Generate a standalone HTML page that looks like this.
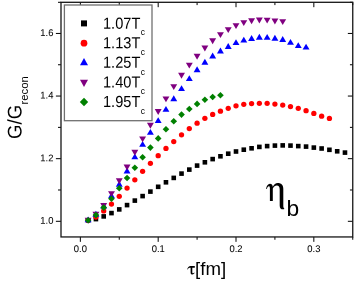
<!DOCTYPE html><html><head><meta charset="utf-8"><title>chart</title>
<style>html,body{margin:0;padding:0;background:#fff;}body{width:359px;height:289px;overflow:hidden;}svg{display:block;}text{font-family:"Liberation Sans",sans-serif;}svg{will-change:transform;}</style>
</head><body>
<svg width="359" height="289" viewBox="0 0 359 289">
<rect x="0" y="0" width="359" height="289" fill="#fff"/>
<g stroke="#000" stroke-width="1.0" fill="none">
<path d="M80.35 236.95V241.85"/>
<path d="M80.35 2.3V7.20"/>
<path d="M119.26 236.95V239.75"/>
<path d="M119.26 2.3V5.10"/>
<path d="M158.18 236.95V241.85"/>
<path d="M158.18 2.3V7.20"/>
<path d="M197.09 236.95V239.75"/>
<path d="M197.09 2.3V5.10"/>
<path d="M236.01 236.95V241.85"/>
<path d="M236.01 2.3V7.20"/>
<path d="M274.92 236.95V239.75"/>
<path d="M274.92 2.3V5.10"/>
<path d="M313.84 236.95V241.85"/>
<path d="M313.84 2.3V7.20"/>
<path d="M352.75 236.95V239.75"/>
<path d="M352.75 2.3V5.10"/>
<path d="M61.0 221.30H55.90"/>
<path d="M352.75 221.30H347.85"/>
<path d="M61.0 189.99H58.00"/>
<path d="M352.75 189.99H349.95"/>
<path d="M61.0 158.68H55.90"/>
<path d="M352.75 158.68H347.85"/>
<path d="M61.0 127.37H58.00"/>
<path d="M352.75 127.37H349.95"/>
<path d="M61.0 96.06H55.90"/>
<path d="M352.75 96.06H347.85"/>
<path d="M61.0 64.75H58.00"/>
<path d="M352.75 64.75H349.95"/>
<path d="M61.0 33.44H55.90"/>
<path d="M352.75 33.44H347.85"/>
<path d="M61.0 2.30H58.00"/>
<path d="M352.75 2.30H349.95"/>
</g>
<rect x="61.0" y="2.3" width="291.75" height="234.64999999999998" fill="none" stroke="#161616" stroke-width="1.3"/>
<g id="black">
<rect x="85.83" y="218.10" width="4.6" height="4.6" fill="#000"/>
<rect x="93.62" y="216.80" width="4.6" height="4.6" fill="#000"/>
<rect x="101.40" y="214.10" width="4.6" height="4.6" fill="#000"/>
<rect x="109.18" y="210.80" width="4.6" height="4.6" fill="#000"/>
<rect x="116.96" y="207.10" width="4.6" height="4.6" fill="#000"/>
<rect x="124.75" y="202.80" width="4.6" height="4.6" fill="#000"/>
<rect x="132.53" y="198.30" width="4.6" height="4.6" fill="#000"/>
<rect x="140.31" y="193.80" width="4.6" height="4.6" fill="#000"/>
<rect x="148.10" y="189.30" width="4.6" height="4.6" fill="#000"/>
<rect x="155.88" y="184.50" width="4.6" height="4.6" fill="#000"/>
<rect x="163.66" y="180.00" width="4.6" height="4.6" fill="#000"/>
<rect x="171.45" y="175.60" width="4.6" height="4.6" fill="#000"/>
<rect x="179.23" y="171.30" width="4.6" height="4.6" fill="#000"/>
<rect x="187.01" y="167.30" width="4.6" height="4.6" fill="#000"/>
<rect x="194.79" y="163.30" width="4.6" height="4.6" fill="#000"/>
<rect x="202.58" y="160.00" width="4.6" height="4.6" fill="#000"/>
<rect x="210.36" y="156.80" width="4.6" height="4.6" fill="#000"/>
<rect x="218.14" y="154.00" width="4.6" height="4.6" fill="#000"/>
<rect x="225.93" y="151.40" width="4.6" height="4.6" fill="#000"/>
<rect x="233.71" y="149.20" width="4.6" height="4.6" fill="#000"/>
<rect x="241.49" y="147.40" width="4.6" height="4.6" fill="#000"/>
<rect x="249.28" y="146.00" width="4.6" height="4.6" fill="#000"/>
<rect x="257.06" y="144.60" width="4.6" height="4.6" fill="#000"/>
<rect x="264.84" y="143.80" width="4.6" height="4.6" fill="#000"/>
<rect x="272.62" y="143.30" width="4.6" height="4.6" fill="#000"/>
<rect x="280.41" y="143.10" width="4.6" height="4.6" fill="#000"/>
<rect x="288.19" y="143.30" width="4.6" height="4.6" fill="#000"/>
<rect x="295.97" y="143.80" width="4.6" height="4.6" fill="#000"/>
<rect x="303.76" y="144.30" width="4.6" height="4.6" fill="#000"/>
<rect x="311.54" y="145.30" width="4.6" height="4.6" fill="#000"/>
<rect x="319.32" y="146.20" width="4.6" height="4.6" fill="#000"/>
<rect x="327.11" y="147.50" width="4.6" height="4.6" fill="#000"/>
<rect x="334.89" y="149.00" width="4.6" height="4.6" fill="#000"/>
<rect x="342.67" y="150.30" width="4.6" height="4.6" fill="#000"/>
</g>
<g id="red">
<circle cx="88.13" cy="220.30" r="2.65" fill="#ff0000"/>
<circle cx="95.92" cy="217.00" r="2.65" fill="#ff0000"/>
<circle cx="103.70" cy="210.90" r="2.65" fill="#ff0000"/>
<circle cx="111.48" cy="204.10" r="2.65" fill="#ff0000"/>
<circle cx="119.26" cy="196.30" r="2.65" fill="#ff0000"/>
<circle cx="127.05" cy="188.10" r="2.65" fill="#ff0000"/>
<circle cx="134.83" cy="179.80" r="2.65" fill="#ff0000"/>
<circle cx="142.61" cy="171.30" r="2.65" fill="#ff0000"/>
<circle cx="150.40" cy="163.30" r="2.65" fill="#ff0000"/>
<circle cx="158.18" cy="155.70" r="2.65" fill="#ff0000"/>
<circle cx="165.96" cy="148.40" r="2.65" fill="#ff0000"/>
<circle cx="173.75" cy="141.60" r="2.65" fill="#ff0000"/>
<circle cx="181.53" cy="134.80" r="2.65" fill="#ff0000"/>
<circle cx="189.31" cy="128.60" r="2.65" fill="#ff0000"/>
<circle cx="197.09" cy="123.20" r="2.65" fill="#ff0000"/>
<circle cx="204.88" cy="118.30" r="2.65" fill="#ff0000"/>
<circle cx="212.66" cy="114.40" r="2.65" fill="#ff0000"/>
<circle cx="220.44" cy="111.20" r="2.65" fill="#ff0000"/>
<circle cx="228.23" cy="108.30" r="2.65" fill="#ff0000"/>
<circle cx="236.01" cy="105.80" r="2.65" fill="#ff0000"/>
<circle cx="243.79" cy="104.30" r="2.65" fill="#ff0000"/>
<circle cx="251.58" cy="103.60" r="2.65" fill="#ff0000"/>
<circle cx="259.36" cy="103.30" r="2.65" fill="#ff0000"/>
<circle cx="267.14" cy="103.30" r="2.65" fill="#ff0000"/>
<circle cx="274.92" cy="104.10" r="2.65" fill="#ff0000"/>
<circle cx="282.71" cy="105.10" r="2.65" fill="#ff0000"/>
<circle cx="290.49" cy="106.60" r="2.65" fill="#ff0000"/>
<circle cx="298.27" cy="108.30" r="2.65" fill="#ff0000"/>
<circle cx="306.06" cy="110.70" r="2.65" fill="#ff0000"/>
<circle cx="313.84" cy="113.40" r="2.65" fill="#ff0000"/>
<circle cx="321.62" cy="116.20" r="2.65" fill="#ff0000"/>
<circle cx="329.41" cy="118.40" r="2.65" fill="#ff0000"/>
</g>
<g id="blue">
<path d="M84.68 222.35L91.58 222.35L88.13 216.45Z" fill="#0000ff"/>
<path d="M92.47 216.75L99.37 216.75L95.92 210.85Z" fill="#0000ff"/>
<path d="M100.25 208.55L107.15 208.55L103.70 202.65Z" fill="#0000ff"/>
<path d="M108.03 198.25L114.93 198.25L111.48 192.35Z" fill="#0000ff"/>
<path d="M115.81 186.75L122.71 186.75L119.26 180.85Z" fill="#0000ff"/>
<path d="M123.60 173.45L130.50 173.45L127.05 167.55Z" fill="#0000ff"/>
<path d="M131.38 159.35L138.28 159.35L134.83 153.45Z" fill="#0000ff"/>
<path d="M139.16 146.85L146.06 146.85L142.61 140.95Z" fill="#0000ff"/>
<path d="M146.95 134.85L153.85 134.85L150.40 128.95Z" fill="#0000ff"/>
<path d="M154.73 123.05L161.63 123.05L158.18 117.15Z" fill="#0000ff"/>
<path d="M162.51 111.85L169.41 111.85L165.96 105.95Z" fill="#0000ff"/>
<path d="M170.30 101.15L177.20 101.15L173.75 95.25Z" fill="#0000ff"/>
<path d="M178.08 91.05L184.98 91.05L181.53 85.15Z" fill="#0000ff"/>
<path d="M185.86 81.05L192.76 81.05L189.31 75.15Z" fill="#0000ff"/>
<path d="M193.64 72.15L200.54 72.15L197.09 66.25Z" fill="#0000ff"/>
<path d="M201.43 64.75L208.33 64.75L204.88 58.85Z" fill="#0000ff"/>
<path d="M209.21 58.45L216.11 58.45L212.66 52.55Z" fill="#0000ff"/>
<path d="M216.99 53.45L223.89 53.45L220.44 47.55Z" fill="#0000ff"/>
<path d="M224.78 48.95L231.68 48.95L228.23 43.05Z" fill="#0000ff"/>
<path d="M232.56 45.05L239.46 45.05L236.01 39.15Z" fill="#0000ff"/>
<path d="M240.34 42.55L247.24 42.55L243.79 36.65Z" fill="#0000ff"/>
<path d="M248.13 40.95L255.03 40.95L251.58 35.05Z" fill="#0000ff"/>
<path d="M255.91 39.75L262.81 39.75L259.36 33.85Z" fill="#0000ff"/>
<path d="M263.69 39.85L270.59 39.85L267.14 33.95Z" fill="#0000ff"/>
<path d="M271.47 40.75L278.37 40.75L274.92 34.85Z" fill="#0000ff"/>
<path d="M279.26 41.95L286.16 41.95L282.71 36.05Z" fill="#0000ff"/>
<path d="M287.04 44.85L293.94 44.85L290.49 38.95Z" fill="#0000ff"/>
<path d="M294.82 48.05L301.72 48.05L298.27 42.15Z" fill="#0000ff"/>
<path d="M302.61 49.55L309.51 49.55L306.06 43.65Z" fill="#0000ff"/>
</g>
<g id="purple">
<path d="M84.68 217.75L91.58 217.75L88.13 223.65Z" fill="#800080"/>
<path d="M92.47 211.85L99.37 211.85L95.92 217.75Z" fill="#800080"/>
<path d="M100.25 203.05L107.15 203.05L103.70 208.95Z" fill="#800080"/>
<path d="M108.03 191.15L114.93 191.15L111.48 197.05Z" fill="#800080"/>
<path d="M115.81 178.35L122.71 178.35L119.26 184.25Z" fill="#800080"/>
<path d="M123.60 164.55L130.50 164.55L127.05 170.45Z" fill="#800080"/>
<path d="M131.38 149.75L138.28 149.75L134.83 155.65Z" fill="#800080"/>
<path d="M139.16 136.45L146.06 136.45L142.61 142.35Z" fill="#800080"/>
<path d="M146.95 122.85L153.85 122.85L150.40 128.75Z" fill="#800080"/>
<path d="M154.73 109.05L161.63 109.05L158.18 114.95Z" fill="#800080"/>
<path d="M162.51 96.45L169.41 96.45L165.96 102.35Z" fill="#800080"/>
<path d="M170.30 84.15L177.20 84.15L173.75 90.05Z" fill="#800080"/>
<path d="M178.08 72.85L184.98 72.85L181.53 78.75Z" fill="#800080"/>
<path d="M185.86 62.65L192.76 62.65L189.31 68.55Z" fill="#800080"/>
<path d="M193.64 53.85L200.54 53.85L197.09 59.75Z" fill="#800080"/>
<path d="M201.43 45.55L208.33 45.55L204.88 51.45Z" fill="#800080"/>
<path d="M209.21 38.25L216.11 38.25L212.66 44.15Z" fill="#800080"/>
<path d="M216.99 32.15L223.89 32.15L220.44 38.05Z" fill="#800080"/>
<path d="M224.78 27.15L231.68 27.15L228.23 33.05Z" fill="#800080"/>
<path d="M232.56 23.15L239.46 23.15L236.01 29.05Z" fill="#800080"/>
<path d="M240.34 20.15L247.24 20.15L243.79 26.05Z" fill="#800080"/>
<path d="M248.13 18.35L255.03 18.35L251.58 24.25Z" fill="#800080"/>
<path d="M255.91 17.55L262.81 17.55L259.36 23.45Z" fill="#800080"/>
<path d="M263.69 17.65L270.59 17.65L267.14 23.55Z" fill="#800080"/>
<path d="M271.47 18.55L278.37 18.55L274.92 24.45Z" fill="#800080"/>
<path d="M279.26 19.15L286.16 19.15L282.71 25.05Z" fill="#800080"/>
</g>
<g id="green">
<path d="M84.83 220.20L88.13 216.90L91.43 220.20L88.13 223.50Z" fill="#008000"/>
<path d="M92.62 215.10L95.92 211.80L99.22 215.10L95.92 218.40Z" fill="#008000"/>
<path d="M100.40 207.60L103.70 204.30L107.00 207.60L103.70 210.90Z" fill="#008000"/>
<path d="M108.18 198.80L111.48 195.50L114.78 198.80L111.48 202.10Z" fill="#008000"/>
<path d="M115.96 188.30L119.26 185.00L122.56 188.30L119.26 191.60Z" fill="#008000"/>
<path d="M123.75 178.00L127.05 174.70L130.35 178.00L127.05 181.30Z" fill="#008000"/>
<path d="M131.53 167.80L134.83 164.50L138.13 167.80L134.83 171.10Z" fill="#008000"/>
<path d="M139.31 157.20L142.61 153.90L145.91 157.20L142.61 160.50Z" fill="#008000"/>
<path d="M147.10 147.60L150.40 144.30L153.70 147.60L150.40 150.90Z" fill="#008000"/>
<path d="M154.88 138.40L158.18 135.10L161.48 138.40L158.18 141.70Z" fill="#008000"/>
<path d="M162.66 129.30L165.96 126.00L169.26 129.30L165.96 132.60Z" fill="#008000"/>
<path d="M170.45 121.30L173.75 118.00L177.05 121.30L173.75 124.60Z" fill="#008000"/>
<path d="M178.23 114.60L181.53 111.30L184.83 114.60L181.53 117.90Z" fill="#008000"/>
<path d="M186.01 109.00L189.31 105.70L192.61 109.00L189.31 112.30Z" fill="#008000"/>
<path d="M193.79 103.90L197.09 100.60L200.39 103.90L197.09 107.20Z" fill="#008000"/>
<path d="M201.58 99.80L204.88 96.50L208.18 99.80L204.88 103.10Z" fill="#008000"/>
<path d="M209.36 97.00L212.66 93.70L215.96 97.00L212.66 100.30Z" fill="#008000"/>
<path d="M217.14 95.30L220.44 92.00L223.74 95.30L220.44 98.60Z" fill="#008000"/>
</g>
<rect x="64.4" y="5.0" width="87.6" height="115.7" fill="#fff" stroke="#707070" stroke-width="1.3"/>
<rect x="81.00" y="20.40" width="6.0" height="6.0" fill="#000"/>
<circle cx="84.00" cy="43.15" r="3.35" fill="#ff0000"/>
<path d="M80.00 65.20L88.00 65.20L84.00 57.90Z" fill="#0000ff"/>
<path d="M80.00 79.80L88.00 79.80L84.00 87.10Z" fill="#800080"/>
<path d="M79.80 102.00L84.00 97.80L88.20 102.00L84.00 106.20Z" fill="#008000"/>
<text transform="translate(103.0,28.65) rotate(0.05) scale(1,1.1)" font-size="14.6px" fill="#000">1.07T</text>
<text x="140.7" y="35.30" font-size="8.5px" fill="#000">c</text>
<text transform="translate(103.0,48.25) rotate(0.05) scale(1,1.1)" font-size="14.6px" fill="#000">1.13T</text>
<text x="140.7" y="54.90" font-size="8.5px" fill="#000">c</text>
<text transform="translate(103.0,67.85) rotate(0.05) scale(1,1.1)" font-size="14.6px" fill="#000">1.25T</text>
<text x="140.7" y="74.50" font-size="8.5px" fill="#000">c</text>
<text transform="translate(103.0,87.45) rotate(0.05) scale(1,1.1)" font-size="14.6px" fill="#000">1.40T</text>
<text x="140.7" y="94.10" font-size="8.5px" fill="#000">c</text>
<text transform="translate(103.0,107.05) rotate(0.05) scale(1,1.1)" font-size="14.6px" fill="#000">1.95T</text>
<text x="140.7" y="113.70" font-size="8.5px" fill="#000">c</text>
<g font-size="9.4px" fill="#000" stroke="#000" stroke-width="0.06">
<text transform="translate(80.35,252.0) rotate(0.05) scale(1,1.04)" text-anchor="middle">0.0</text>
<text transform="translate(158.18,252.0) rotate(0.05) scale(1,1.04)" text-anchor="middle">0.1</text>
<text transform="translate(236.01,252.0) rotate(0.05) scale(1,1.04)" text-anchor="middle">0.2</text>
<text transform="translate(313.84,252.0) rotate(0.05) scale(1,1.04)" text-anchor="middle">0.3</text>
<text transform="translate(53.4,223.80) rotate(0.05) scale(1,1.04)" text-anchor="end">1.0</text>
<text transform="translate(53.4,161.18) rotate(0.05) scale(1,1.04)" text-anchor="end">1.2</text>
<text transform="translate(53.4,98.56) rotate(0.05) scale(1,1.04)" text-anchor="end">1.4</text>
<text transform="translate(53.4,35.94) rotate(0.05) scale(1,1.04)" text-anchor="end">1.6</text>
</g>
<text transform="translate(21.6,138.9) rotate(-90.04) scale(1,1.06)" font-size="18.67px" fill="#000">G/G</text><text transform="translate(28.0,104.6) rotate(-90)" font-size="11.4px" fill="#000">recon</text>
<path d="M187.3 269.3C187.7 267.3 188.8 266.0 190.6 266.0L194.8 266.0L194.8 267.8L192.3 267.8L192.3 272.2C192.3 273.0 192.6 273.3 193.1 273.3C193.5 273.3 193.9 273.0 194.2 272.6L194.6 273.1C194.1 274.0 193.3 274.5 192.4 274.5C191.2 274.5 190.6 273.8 190.6 272.4L190.6 267.8C189.2 267.8 188.3 268.2 187.8 269.4Z" fill="#000"><title>τ</title></path>
<text x="195.05" y="274.5" font-size="18.67px" fill="#000">[fm]</text>
<path d="M266.1 188.7C266.5 185.9 268.0 183.7 269.9 183.7C271.6 183.7 272.6 184.8 272.8 186.8C274.0 184.6 275.6 183.1 277.8 183.1C281.2 183.1 283.3 185.2 283.3 188.8L283.3 205.6C283.3 207.4 283.6 208.1 284.3 208.5L284.1 209.2C281.2 209.6 279.7 208.4 279.7 205.4L279.7 189.6C279.7 186.9 278.7 185.6 276.8 185.6C275.2 185.6 273.8 186.8 272.8 188.6L272.8 201.0L269.9 201.0L269.9 188.4C269.9 186.8 269.5 186.2 268.8 186.2C268.0 186.2 267.3 187.2 266.9 189.0Z" fill="#000"><title>η</title></path>
<text x="286.4" y="215.8" font-size="22.8px" fill="#000">b</text>
</svg></body></html>
